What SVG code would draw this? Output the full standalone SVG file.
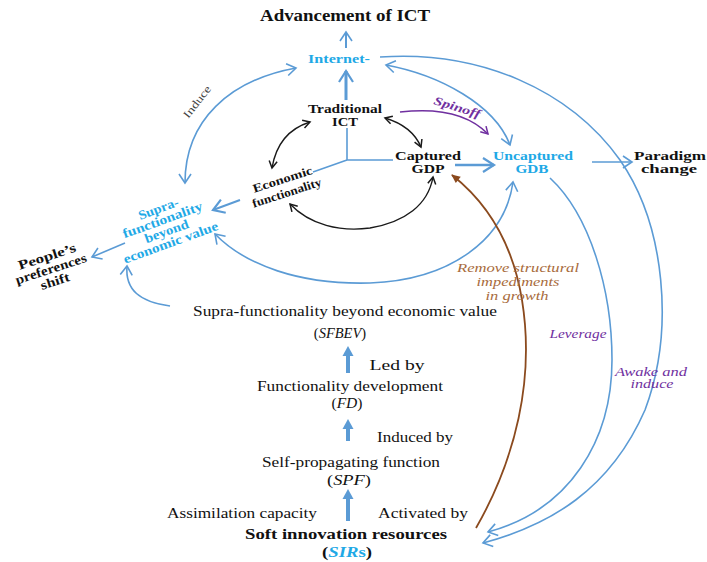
<svg xmlns="http://www.w3.org/2000/svg" width="707" height="562" viewBox="0 0 707 562">
<style>
text{font-family:"Liberation Serif","Times New Roman",serif;}
.b{font-weight:bold;}
.k{fill:#111;}
.c{fill:#1fa9e6;}
.p{fill:#7030a0;}
.br{fill:#a86b3c;}
.i{font-style:italic;}
.m{text-anchor:middle;}
.bl{fill:none;stroke:#5b9bd5;}
.bk{fill:none;stroke:#1a1a1a;stroke-width:1.4;}
</style>
<defs>
<marker id="mB" markerUnits="userSpaceOnUse" markerWidth="12" markerHeight="14" refX="10" refY="7" orient="auto-start-reverse" overflow="visible">
<path d="M1,1 L10,7 L1,13" fill="none" stroke="#5b9bd5" stroke-width="1.6"/>
</marker>
<marker id="mB2" markerUnits="userSpaceOnUse" markerWidth="14" markerHeight="16" refX="12" refY="8" orient="auto-start-reverse" overflow="visible">
<path d="M1,1 L12,8 L1,15" fill="none" stroke="#5b9bd5" stroke-width="2.2"/>
</marker>
<marker id="mK" markerUnits="userSpaceOnUse" markerWidth="10" markerHeight="10" refX="8" refY="5" orient="auto-start-reverse" overflow="visible">
<path d="M1,1 L8,5 L1,9" fill="none" stroke="#1a1a1a" stroke-width="1.5"/>
</marker>
<marker id="mP" markerUnits="userSpaceOnUse" markerWidth="10" markerHeight="10" refX="8" refY="5" orient="auto" overflow="visible">
<path d="M1,1 L8,5 L1,9" fill="none" stroke="#7030a0" stroke-width="1.5"/>
</marker>
<marker id="mBr" markerUnits="userSpaceOnUse" markerWidth="10" markerHeight="10" refX="8" refY="4" orient="auto" overflow="visible">
<path d="M0,0 L9,4 L0,8 z" fill="#8b4a1e"/>
</marker>
<marker id="mBf" markerUnits="userSpaceOnUse" markerWidth="12" markerHeight="12" refX="2" refY="5.5" orient="auto" overflow="visible">
<path d="M0,0 L10,5.5 L0,11 z" fill="#5b9bd5"/>
</marker>
</defs>
<rect width="707" height="562" fill="#fff"/>

<g id="connectors">
<path class="bl" stroke-width="2" d="M346,48 L346,32" marker-end="url(#mB)"/>
<path class="bl" stroke-width="3" d="M346,100 L346,71" marker-end="url(#mB2)"/>
<path class="bl" stroke-width="1.6" d="M347,128 L347,160 L393,160 M347,160 L313,172"/>
<path class="bl" stroke-width="2.5" d="M455,165 L494,165" marker-end="url(#mB2)"/>
<path class="bl" stroke-width="1.6" d="M592,162 L632,162" marker-end="url(#mB)"/>
<path class="bl" stroke-width="2" d="M240,200 L213,210" marker-end="url(#mB2)"/>
<path class="bl" stroke-width="1.6" d="M125,243 L92,257" marker-end="url(#mB)"/>
<path class="bl" stroke-width="1.6" d="M296,68 C230,80 185,120 185,183" marker-start="url(#mB)" marker-end="url(#mB)"/>
<path class="bl" stroke-width="1.6" d="M386,65 C440,75 495,105 510,145" marker-start="url(#mB)" marker-end="url(#mB)"/>
<path class="bl" stroke-width="1.6" d="M380,57 C480,50 570,90 620,160 C665,225 675,330 645,410 C610,490 550,525 483,543" marker-end="url(#mB)"/>
<path class="bl" stroke-width="1.6" d="M550,178 C590,215 612,290 612,360 C612,440 570,510 488,532" marker-end="url(#mB)"/>
<path class="bl" stroke-width="1.6" d="M513,182 C505,240 450,280 370,283 C300,285 245,265 215,234" marker-start="url(#mB)" marker-end="url(#mB)"/>
<path class="bl" stroke-width="1.6" d="M170,306 C140,302 125,290 127,266" marker-end="url(#mB)"/>
<path class="bk" d="M385,118 Q412,126 421,147" marker-start="url(#mK)" marker-end="url(#mK)"/>
<path class="bk" d="M310,122 Q278,132 272,168" marker-start="url(#mK)" marker-end="url(#mK)"/>
<path class="bk" d="M290,204 C310,225 340,232 370,228 C405,222 428,205 433,177" marker-start="url(#mK)" marker-end="url(#mK)"/>
<path fill="none" stroke="#7030a0" stroke-width="1.5" d="M400,112 Q460,105 488,134" marker-end="url(#mP)"/>
<path fill="none" stroke="#8b4a1e" stroke-width="1.8" d="M476,528 C515,460 535,380 522,300 C513,245 490,205 452,175" marker-end="url(#mBr)"/>
<path class="bl" stroke-width="4" d="M348,373 L348,354" marker-end="url(#mBf)"/>
<path class="bl" stroke-width="4" d="M348,441 L348,427" marker-end="url(#mBf)"/>
<path class="bl" stroke-width="4" d="M348,521 L348,497" marker-end="url(#mBf)"/>
</g>

<g id="edge-labels">
<text transform="translate(200,104) rotate(-52)" class="m" font-size="11" fill="#444" textLength="38" lengthAdjust="spacingAndGlyphs">Induce</text>
<text transform="translate(456,111) rotate(17)" class="m b i p" font-size="12" textLength="48" lengthAdjust="spacingAndGlyphs">Spinoff</text>
<g class="m i br" font-size="13">
<text x="518" y="272" textLength="122" lengthAdjust="spacingAndGlyphs">Remove structural</text>
<text x="518" y="286" textLength="83" lengthAdjust="spacingAndGlyphs">impediments</text>
<text x="517" y="300" textLength="63" lengthAdjust="spacingAndGlyphs">in growth</text>
</g>
<text x="578" y="338" class="m i p" font-size="12" textLength="57" lengthAdjust="spacingAndGlyphs">Leverage</text>
<text x="651" y="376" class="m i p" font-size="11.5" textLength="72" lengthAdjust="spacingAndGlyphs">Awake and</text>
<text x="652" y="388" class="m i p" font-size="11.5" textLength="43" lengthAdjust="spacingAndGlyphs">induce</text>
<text x="397" y="370" class="m k" font-size="15" textLength="55" lengthAdjust="spacingAndGlyphs">Led by</text>
<text x="415" y="442" class="m k" font-size="15" textLength="76" lengthAdjust="spacingAndGlyphs">Induced by</text>
<text x="242" y="518" class="m k" font-size="15" textLength="150" lengthAdjust="spacingAndGlyphs">Assimilation capacity</text>
<text x="423" y="518" class="m k" font-size="15" textLength="90" lengthAdjust="spacingAndGlyphs">Activated by</text>
</g>

<g id="advancement-ict">
<text x="345" y="21" class="m b k" font-size="16" textLength="170" lengthAdjust="spacingAndGlyphs">Advancement of ICT</text>
</g>
<g id="internet">
<text x="339" y="63" class="m b c" font-size="13" textLength="62" lengthAdjust="spacingAndGlyphs">Internet-</text>
</g>
<g id="traditional-ict">
<text x="345" y="113" class="m b k" font-size="12.5" textLength="74" lengthAdjust="spacingAndGlyphs">Traditional</text>
<text x="345" y="126" class="m b k" font-size="12.5" textLength="26" lengthAdjust="spacingAndGlyphs">ICT</text>
</g>
<g id="captured-gdp">
<text x="428" y="160" class="m b k" font-size="12.5" textLength="66" lengthAdjust="spacingAndGlyphs">Captured</text>
<text x="428" y="173" class="m b k" font-size="12.5" textLength="33" lengthAdjust="spacingAndGlyphs">GDP</text>
</g>
<g id="uncaptured-gdb">
<text x="533" y="160" class="m b c" font-size="12.5" textLength="80" lengthAdjust="spacingAndGlyphs">Uncaptured</text>
<text x="532" y="173" class="m b c" font-size="12.5" textLength="33" lengthAdjust="spacingAndGlyphs">GDB</text>
</g>
<g id="paradigm-change">
<text x="670" y="160" class="m b k" font-size="12.5" textLength="72" lengthAdjust="spacingAndGlyphs">Paradigm</text>
<text x="669" y="173" class="m b k" font-size="12.5" textLength="56" lengthAdjust="spacingAndGlyphs">change</text>
</g>
<g id="economic-functionality" transform="translate(285,187) rotate(-18)">
<text x="0" y="-4" class="m b k" font-size="12" textLength="62" lengthAdjust="spacingAndGlyphs">Economic</text>
<text x="0" y="10" class="m b k" font-size="12" textLength="72" lengthAdjust="spacingAndGlyphs">functionality</text>
</g>
<g id="supra-functionality-top" transform="translate(164,224) rotate(-20)">
<text x="0" y="-12" class="m b c" font-size="13" textLength="42" lengthAdjust="spacingAndGlyphs">Supra-</text>
<text x="0" y="0" class="m b c" font-size="13" textLength="84" lengthAdjust="spacingAndGlyphs">functionality</text>
<text x="0" y="12" class="m b c" font-size="13" textLength="46" lengthAdjust="spacingAndGlyphs">beyond</text>
<text x="0" y="24" class="m b c" font-size="13" textLength="100" lengthAdjust="spacingAndGlyphs">economic value</text>
</g>
<g id="peoples-preferences-shift" transform="translate(52,272) rotate(-18)">
<text x="0" y="-12" class="m b k" font-size="13" textLength="60" lengthAdjust="spacingAndGlyphs">People’s</text>
<text x="0" y="1" class="m b k" font-size="13" textLength="74" lengthAdjust="spacingAndGlyphs">preferences</text>
<text x="0" y="14" class="m b k" font-size="13" textLength="30" lengthAdjust="spacingAndGlyphs">shift</text>
</g>
<g id="sfbev">
<text x="345" y="316" class="m k" font-size="15" textLength="304" lengthAdjust="spacingAndGlyphs">Supra-functionality beyond economic value</text>
<text x="340" y="338" class="m k" font-size="14.5">(<tspan class="i">SFBEV</tspan>)</text>
</g>
<g id="fd">
<text x="350" y="391" class="m k" font-size="15" textLength="186" lengthAdjust="spacingAndGlyphs">Functionality development</text>
<text x="347" y="408" class="m k" font-size="14" textLength="31" lengthAdjust="spacingAndGlyphs">(<tspan class="i">FD</tspan>)</text>
</g>
<g id="spf">
<text x="351" y="467" class="m k" font-size="15" textLength="178" lengthAdjust="spacingAndGlyphs">Self-propagating function</text>
<text x="349" y="485" class="m k" font-size="14" textLength="44" lengthAdjust="spacingAndGlyphs">(<tspan class="i">SPF</tspan>)</text>
</g>
<g id="sirs">
<text x="346" y="539" class="m b k" font-size="15" textLength="202" lengthAdjust="spacingAndGlyphs">Soft innovation resources</text>
<text x="347" y="557" class="m b k" font-size="15" textLength="50" lengthAdjust="spacingAndGlyphs">(<tspan class="i c">SIR</tspan><tspan class="c">s</tspan>)</text>
</g>
</svg>
